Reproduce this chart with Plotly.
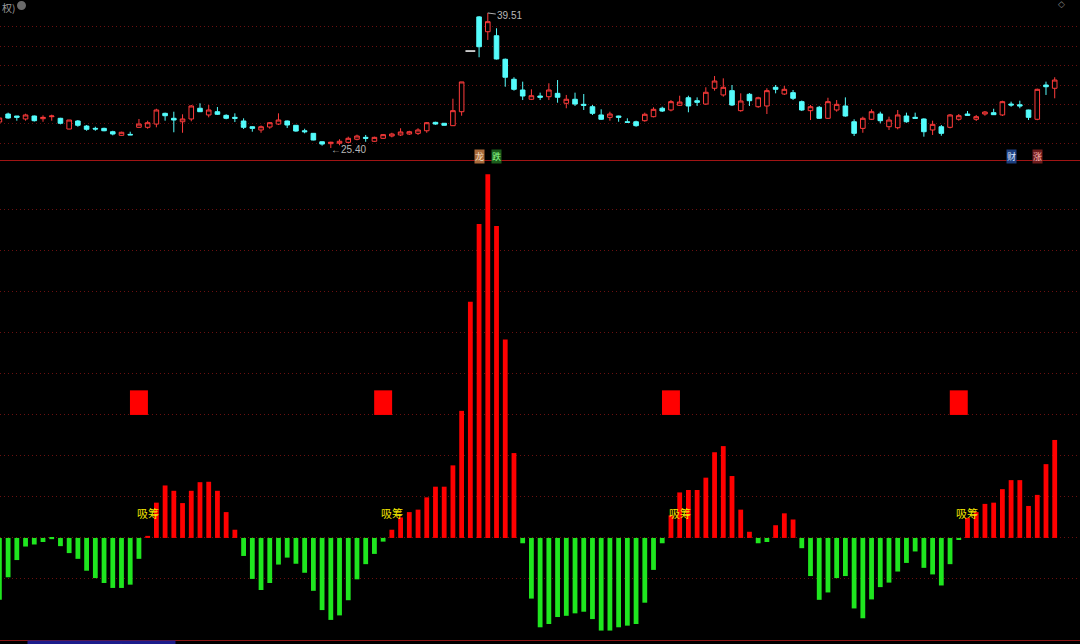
import plotly.graph_objects as go
from plotly.subplots import make_subplots

# 日K (前复权) — one entry per trading day
opens = [28.11, 28.95, 28.74, 28.43, 28.74, 28.46, 28.67, 28.50, 27.38, 28.22,
         27.69, 27.45, 27.45, 27.10, 26.72, 26.82, 27.56, 27.56, 27.90, 29.02,
         28.50, 28.14, 28.43, 29.55, 28.85, 29.19, 28.81, 28.60, 28.22, 27.62,
         27.28, 27.59, 27.90, 28.22, 27.77, 27.20, 26.93, 26.05, 25.85, 25.89,
         25.99, 26.31, 26.51, 26.10, 26.41, 26.65, 26.76, 26.86, 26.93, 27.20,
         28.08, 27.98, 27.73, 29.19, 35.53, 39.10, 37.55, 37.13, 34.67, 32.58,
         31.46, 30.49, 30.83, 30.76, 31.11, 30.07, 30.49, 29.96, 29.71, 28.85,
         28.60, 28.74, 28.14, 28.14, 28.25, 28.67, 29.55, 29.37, 29.86, 30.65,
         30.34, 29.99, 31.64, 30.94, 31.39, 29.30, 31.01, 29.71, 29.79, 31.74,
         31.04, 31.18, 30.24, 29.30, 29.65, 28.50, 29.37, 29.79, 28.14, 27.45,
         28.40, 28.95, 27.62, 27.52, 28.74, 28.60, 28.43, 27.28, 27.62, 27.56,
         28.40, 28.95, 28.40, 28.95, 29.09, 28.85, 29.99, 29.92, 29.37, 28.40,
         31.98, 31.64]
highs = [28.74, 29.09, 28.74, 28.98, 28.79, 28.81, 28.88, 28.55, 28.32, 28.32,
         27.80, 27.62, 27.52, 27.20, 27.10, 27.10, 28.43, 28.25, 29.50, 29.09,
         29.19, 28.92, 29.89, 30.07, 29.89, 29.68, 28.92, 29.02, 28.50, 27.66,
         27.75, 28.11, 29.02, 28.27, 27.80, 27.41, 26.96, 26.08, 26.05, 26.31,
         26.58, 26.79, 26.76, 26.58, 26.86, 26.99, 27.46, 27.20, 27.46, 28.11,
         28.14, 28.00, 30.55, 32.30, 35.53, 39.19, 39.51, 37.91, 34.75, 32.79,
         32.33, 31.53, 31.18, 32.16, 32.50, 30.94, 31.18, 31.04, 29.89, 29.44,
         29.19, 28.77, 28.50, 28.25, 29.09, 29.65, 29.71, 30.41, 30.86, 30.86,
         30.69, 31.74, 32.92, 32.68, 31.98, 31.11, 31.14, 30.75, 31.64, 31.98,
         31.88, 31.46, 30.36, 29.89, 29.79, 30.65, 30.41, 30.69, 28.40, 28.67,
         29.44, 29.19, 28.67, 29.37, 29.09, 29.09, 28.50, 28.25, 27.80, 28.95,
         28.95, 29.26, 28.85, 29.26, 29.50, 30.34, 30.24, 30.34, 29.40, 31.60,
         32.33, 32.79]
lows = [27.90, 28.46, 28.25, 28.25, 28.16, 28.14, 28.25, 27.87, 27.35, 27.62,
        27.20, 27.20, 27.15, 26.72, 26.68, 26.75, 27.52, 27.41, 27.56, 28.25,
        27.04, 26.99, 28.19, 29.16, 28.60, 28.85, 28.40, 28.11, 27.38, 27.10,
        26.99, 27.41, 27.80, 27.49, 27.10, 26.93, 26.20, 25.64, 25.40, 25.68,
        25.89, 26.20, 26.05, 26.05, 26.36, 26.51, 26.65, 26.76, 26.76, 26.99,
        27.83, 27.75, 27.70, 28.77, 35.53, 34.88, 36.69, 34.65, 31.80, 31.39,
        30.41, 30.41, 30.41, 30.41, 30.13, 29.55, 29.79, 29.37, 28.85, 28.32,
        28.25, 28.14, 28.06, 27.62, 28.14, 28.60, 29.16, 29.23, 29.79, 29.13,
        29.79, 29.89, 31.39, 30.76, 29.79, 29.19, 29.79, 29.60, 28.95, 31.11,
        30.94, 30.41, 29.26, 28.32, 28.43, 28.43, 29.19, 28.67, 26.65, 26.99,
        28.32, 27.98, 27.28, 27.35, 28.04, 28.47, 26.58, 26.76, 26.68, 27.45,
        28.25, 28.78, 28.22, 28.77, 28.85, 28.74, 29.71, 29.55, 28.32, 28.30,
        30.94, 30.59]
closes = [28.53, 28.53, 28.60, 28.85, 28.25, 28.60, 28.74, 27.98, 28.32, 27.77,
          27.35, 27.38, 27.20, 26.86, 27.04, 26.77, 27.90, 28.04, 29.37, 28.77,
          28.32, 28.43, 29.79, 29.19, 29.37, 28.92, 28.50, 28.50, 27.56, 27.45,
          27.62, 28.04, 28.32, 27.80, 27.17, 27.10, 26.23, 25.81, 26.00, 26.10,
          26.41, 26.65, 26.41, 26.51, 26.79, 26.86, 27.07, 27.10, 27.28, 28.04,
          27.90, 27.77, 29.30, 32.30, 35.53, 35.98, 38.60, 34.70, 32.79, 31.53,
          30.83, 30.86, 30.70, 31.46, 30.70, 30.49, 29.99, 29.86, 29.02, 28.40,
          28.95, 28.60, 28.08, 27.73, 28.92, 29.44, 29.26, 30.24, 30.20, 29.79,
          30.17, 31.22, 32.40, 31.74, 29.89, 30.31, 30.34, 30.65, 31.39, 31.53,
          31.53, 30.59, 29.37, 29.71, 28.50, 30.24, 29.96, 28.74, 26.93, 28.50,
          29.19, 28.25, 28.32, 28.85, 28.14, 28.50, 27.10, 27.87, 26.93, 28.85,
          28.77, 28.81, 28.67, 29.16, 28.88, 30.24, 29.89, 29.79, 28.60, 31.53,
          31.80, 32.50]

# 指标柱
signal = [-15.1, -9.6, -5.4, -2.1, -1.6, -1.0, -0.3, -2.0, -3.7, -5.1,
          -8.0, -9.8, -11.0, -12.2, -12.2, -11.4, -5.1, 0.5, 8.6, 12.8,
          11.5, 8.5, 11.5, 13.6, 13.7, 11.5, 6.3, 2.0, -4.4, -10.0,
          -12.7, -11.0, -6.5, -4.8, -6.3, -8.5, -12.9, -17.6, -20.0, -18.9,
          -15.2, -10.1, -6.4, -3.9, -0.9, 2.0, 5.0, 6.3, 6.9, 9.9,
          12.5, 12.5, 17.7, 31.0, 57.6, 76.6, 88.7, 76.1, 48.4, 20.7,
          -1.3, -14.8, -21.8, -21.0, -19.3, -19.0, -18.4, -18.0, -19.8, -22.6,
          -22.6, -21.8, -21.4, -21.0, -15.8, -7.8, -1.3, 5.5, 11.1, 11.7,
          11.7, 14.7, 20.9, 22.4, 15.1, 6.9, 1.5, -1.3, -1.0, 3.1,
          6.0, 4.5, -2.5, -9.3, -15.1, -13.3, -9.8, -9.3, -17.2, -19.6,
          -15.0, -12.0, -10.9, -8.2, -6.1, -3.3, -7.3, -8.9, -11.6, -6.4,
          -0.5, 4.9, 6.3, 8.3, 8.6, 11.9, 14.1, 14.1, 7.8, 10.5,
          18.0, 23.9]

square_idx = [16, 44, 77, 110]
square_low, square_high = 30, 36
label_idx = [17, 45, 78, 111]
label_level = 6.2

price_grid = [25.89, 27.92, 29.95, 31.98, 34.01, 36.04, 38.07]
signal_grid = [-10, 0, 10, 20, 30, 40, 50, 60, 70, 80]

high_idx, high_val = 56, 39.51
low_idx, low_val = 38, 25.40

# 事件标记: index, char, background, text colour
events = [(55, "龙", "#a86a3a", "#f5e2c8"), (57, "跌", "#1c5c1c", "#8cff8c"),
          (116, "财", "#1d3f80", "#d8e6ff"), (119, "涨", "#6e1c1c", "#ffb4b4")]

RED = "#ff3b3b"
CYAN = "#54fcfc"
CJK = "Noto Sans CJK SC"
H = 644

idx = list(range(len(opens)))
flat = [i for i in idx if highs[i] == lows[i]]
body = [i for i in idx if i not in flat]

fig = make_subplots(rows=2, cols=1, shared_xaxes=True, vertical_spacing=0)

fig.add_trace(go.Candlestick(
    x=body, open=[opens[i] for i in body], high=[highs[i] for i in body],
    low=[lows[i] for i in body], close=[closes[i] for i in body],
    increasing=dict(line=dict(color=RED, width=1), fillcolor="#000000"),
    decreasing=dict(line=dict(color=CYAN, width=1), fillcolor=CYAN),
    whiskerwidth=0, hoverinfo="skip"), row=1, col=1)

# 一字板
fig.add_trace(go.Scatter(
    x=flat, y=[closes[i] for i in flat], mode="markers",
    marker=dict(symbol="line-ew", size=7, line=dict(color="#ffffff", width=1.5)),
    hoverinfo="skip"), row=1, col=1)

fig.add_trace(go.Bar(
    x=idx, y=signal, width=0.55,
    marker=dict(color=["#ff0000" if v > 0 else "#1fe61f" for v in signal], line=dict(width=0)),
    hoverinfo="skip"), row=2, col=1)

fig.add_trace(go.Bar(
    x=square_idx, y=[square_high - square_low] * len(square_idx), base=square_low,
    width=2.06, marker=dict(color="#ff0000", line=dict(width=0)), hoverinfo="skip"),
    row=2, col=1)

for i in label_idx:
    fig.add_annotation(x=i, y=label_level, xref="x2", yref="y2", text="吸筹", showarrow=False,
                       font=dict(family=CJK, size=11, color="#f2e600"))

fig.add_annotation(x=high_idx, y=high_val, xref="x", yref="y", text=f"{high_val:.2f}",
                   showarrow=True, arrowhead=0, arrowwidth=1, arrowcolor="#b0b0b0",
                   ax=22, ay=3, font=dict(family="Liberation Sans", size=10, color="#b8b8b8"))
fig.add_annotation(x=low_idx, y=low_val, xref="x", yref="y", text=f"←{low_val:.2f}",
                   showarrow=False, xanchor="left", xshift=-2, yshift=-2,
                   font=dict(family="Liberation Sans", size=10, color="#b8b8b8"))

for i, ch, bg, fg in events:
    fig.add_annotation(x=i, y=1 - 149 / H, xref="x", yref="paper", text=ch, showarrow=False,
                       yanchor="top", bgcolor=bg, borderpad=0,
                       font=dict(family=CJK, size=9, color=fg))

# 窗口控件
fig.add_annotation(x=0, y=1, xref="paper", yref="paper", text="权)", showarrow=False,
                   xanchor="left", yanchor="top", yshift=2,
                   font=dict(family=CJK, size=10, color="#9a9a9a"))
fig.add_shape(type="circle", xref="paper", yref="paper", x0=17 / 1080, x1=26 / 1080,
              y0=1 - 10 / H, y1=1 - 1 / H, fillcolor="#6a6a6a", line=dict(width=0))
fig.add_annotation(x=1067 / 1080, y=1, xref="paper", yref="paper", text="◇", showarrow=False,
                   yanchor="top", yshift=3, font=dict(family="DejaVu Sans", size=9, color="#888888"))
fig.add_annotation(x=27 / 1080, y=1 - 640 / H, xref="paper", yref="paper",
                   text="2025/10/29/三 440 开今涨幅13.73%", showarrow=False,
                   xanchor="left", yanchor="top", bgcolor="#1c1c8c", borderpad=1,
                   font=dict(family=CJK, size=9, color="#c8c8ff"))

fig.add_shape(type="line", xref="paper", yref="paper", x0=0, x1=1,
              y0=1 - 160.5 / H, y1=1 - 160.5 / H, line=dict(color="#a01414", width=1))

xr = [0.07, 123.9]
grid_dash = "1px,3px"
fig.update_layout(
    width=1080, height=H, margin=dict(l=0, r=0, t=0, b=0),
    paper_bgcolor="#000000", plot_bgcolor="#000000",
    showlegend=False, barmode="overlay", boxgap=0.25, hovermode=False,
    xaxis=dict(range=xr, showticklabels=False, showgrid=False, zeroline=False,
               rangeslider=dict(visible=False)),
    xaxis2=dict(range=xr, showticklabels=False, showgrid=False, zeroline=False,
                showline=True, linecolor="#8c1616", linewidth=1),
    yaxis=dict(domain=[1 - 160 / H, 1], range=[24.143, 40.865], tickvals=price_grid,
               showticklabels=False, gridcolor="#6a1010", griddash=grid_dash, zeroline=False),
    yaxis2=dict(domain=[1 - 640 / H, 1 - 161 / H], range=[-24.9, 91.95], tickvals=signal_grid,
                showticklabels=False, gridcolor="#6a1010", griddash=grid_dash, zeroline=False),
)

fig.write_html("out.html", config={"displayModeBar": False},
               post_script="document.body.style.margin='0';document.body.style.background='#000';")
